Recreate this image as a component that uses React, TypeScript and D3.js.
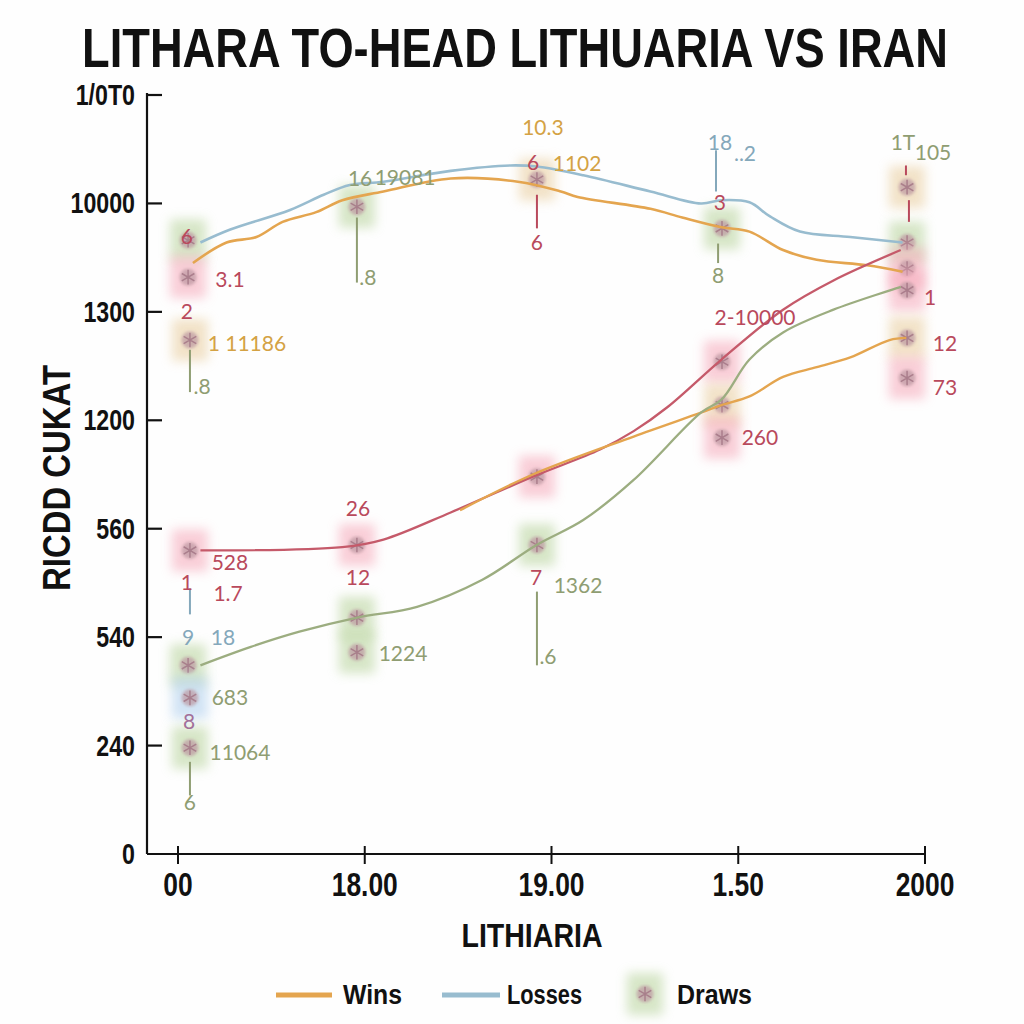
import React from "react";
import * as d3 from "d3";

// ---------- data (chart units: x = category index, y = tick index) ----------
const xTickLabels = ["00", "18.00", "19.00", "1.50", "2000"];
const yTickLabels = ["0", "240", "540", "560", "1200", "1300", "10000", "1/0T0"];

const lossesLine: [number, number][] = [
  [0.12, 5.64], [0.28, 5.76], [0.6, 5.94], [0.78, 6.08], [0.92, 6.17], [1.1, 6.2],
  [1.46, 6.3], [1.78, 6.35], [1.92, 6.34], [2.17, 6.26], [2.53, 6.11], [2.8, 6.0],
  [2.91, 6.03], [3.06, 6.01], [3.17, 5.88], [3.33, 5.74], [3.6, 5.69], [3.88, 5.64],
];
const winsUpperLine: [number, number][] = [
  [0.08, 5.45], [0.26, 5.64], [0.42, 5.69], [0.56, 5.83], [0.74, 5.92], [0.88, 6.03],
  [1.1, 6.11], [1.46, 6.23], [1.82, 6.2], [2.05, 6.11], [2.14, 6.06], [2.53, 5.95],
  [2.7, 5.87], [2.91, 5.78], [3.06, 5.74], [3.24, 5.57], [3.42, 5.48], [3.69, 5.43], [3.88, 5.37],
];
const winsLowerLine: [number, number][] = [
  [1.51, 3.17], [1.9, 3.5], [2.44, 3.85], [2.8, 4.07], [2.91, 4.14], [3.06, 4.22],
  [3.24, 4.4], [3.42, 4.49], [3.6, 4.58], [3.81, 4.74], [3.9, 4.76],
];
const redLine: [number, number][] = [
  [0.12, 2.8], [0.88, 2.83], [1.1, 2.9], [1.46, 3.15], [1.9, 3.48], [2.26, 3.73],
  [2.44, 3.9], [2.62, 4.12], [2.91, 4.56], [3.24, 5.02], [3.51, 5.29], [3.87, 5.57],
];
const greenLine: [number, number][] = [
  [0.12, 1.74], [0.39, 1.91], [0.65, 2.05], [0.96, 2.18], [1.28, 2.28], [1.63, 2.53],
  [1.92, 2.85], [2.17, 3.08], [2.44, 3.45], [2.8, 4.07], [2.91, 4.19], [3.06, 4.56],
  [3.24, 4.81], [3.51, 5.02], [3.87, 5.23],
];

// Draws markers: [x, y, glow]
const drawsPoints: [number, number, string][] = [
  [0.054, 5.66, "green"], [0.054, 5.32, "pink"], [0.064, 4.74, "beige"], [0.064, 2.8, "pink"],
  [0.054, 1.74, "green"], [0.064, 1.44, "blue"], [0.064, 0.98, "green"],
  [0.958, 5.97, "green"], [0.958, 2.85, "pink"], [0.958, 2.18, "green"], [0.958, 1.86, "green"],
  [1.922, 6.22, "beige"], [1.922, 3.48, "pink"], [1.922, 2.85, "green"],
  [2.913, 5.77, "green"], [2.913, 4.54, "pink"], [2.913, 4.14, "beige"], [2.913, 3.84, "pink"],
  [3.904, 6.15, "beige"], [3.904, 5.64, "green"], [3.904, 5.4, "pink"], [3.904, 5.2, "pink"],
  [3.904, 4.76, "beige"], [3.904, 4.39, "pink"],
];

// Annotation labels: [x, y, text, tone]
const labels: [number, number, string, string][] = [
  [0.048, 5.70, "6", "red"], [0.278, 5.30, "3.1", "red"], [0.048, 5.0, "2", "red"],
  [0.369, 4.71, "1 11186", "orange"], [0.129, 4.31, ".8", "green"],
  [0.278, 2.69, "528", "red"], [0.048, 2.5, "1", "red"], [0.268, 2.4, "1.7", "red"],
  [0.054, 2.0, "9", "blue"], [0.241, 2.0, "18", "blue"], [0.278, 1.44, "683", "green"],
  [0.059, 1.22, "8", "purple"], [0.332, 0.94, "11064", "green"], [0.064, 0.48, "6", "green"],
  [0.975, 6.23, "16", "green"], [1.216, 6.24, "19081", "green"], [1.017, 5.32, ".8", "green"],
  [0.964, 3.19, "26", "red"], [0.964, 2.55, "12", "red"], [1.205, 1.85, "1224", "green"],
  [1.954, 6.7, "10.3", "orange"], [1.901, 6.38, "6", "red"], [2.137, 6.37, "1102", "orange"],
  [1.922, 5.64, "6", "red"], [1.917, 2.55, "7", "red"], [2.142, 2.48, "1362", "green"],
  [1.981, 1.82, ".6", "green"],
  [2.902, 6.56, "18", "blue"], [3.036, 6.46, "..2", "blue"], [2.902, 6.01, "3", "red"],
  [2.892, 5.34, "8", "green"], [3.09, 4.95, "2-10000", "red"], [3.116, 3.84, "260", "red"],
  [3.882, 6.56, "1T", "green"], [4.043, 6.47, "105", "green"], [4.027, 5.13, "1", "red"],
  [4.107, 4.71, "12", "red"], [4.107, 4.3, "73", "red"],
];

// Stems: [x, y1, y2, tone]
const stems: [number, number, number, string][] = [
  [0.064, 4.65, 4.26, "green"], [0.064, 2.45, 2.21, "blue"], [0.064, 0.85, 0.54, "green"],
  [0.958, 5.87, 5.27, "green"], [1.922, 6.08, 5.77, "red"], [1.922, 2.42, 1.74, "green"],
  [2.881, 6.49, 6.11, "blue"], [2.892, 5.63, 5.45, "green"], [3.898, 6.35, 6.26, "red"],
  [3.914, 6.03, 5.83, "red"],
];

const legendItems = ["Wins", "Losses", "Draws"];

// ---------- styles ----------
const lineColors = { wins: "#e4a54f", losses: "#98bccf", red: "#c55a6a", green: "#9cad80" };
const toneColors: Record<string, string> = {
  red: "#b9495c", orange: "#d4a244", green: "#8f9d72", blue: "#84a8bb", purple: "#a2709a",
};
const glowColors: Record<string, string> = {
  pink: "#f6aebe", green: "#bcd6a2", beige: "#ead0a4", blue: "#b4d2ee",
};
const boldFont = "'Liberation Sans', Arial, Helvetica, sans-serif";
const labelFont = "Lato, 'Open Sans', sans-serif";
const SQ = 0.8; // horizontal squeeze for condensed look

export default function App() {
  const x = d3.scaleLinear().domain([0, 4]).range([178, 925]);
  const y = d3.scaleLinear().domain([0, 7]).range([854, 95]);
  const line = d3
    .line<[number, number]>()
    .x((d) => x(d[0]))
    .y((d) => y(d[1]))
    .curve(d3.curveCatmullRom.alpha(0.5));
  const star = d3.symbol().type(d3.symbolAsterisk).size(150)() as string;

  const marker = (cx: number, cy: number, glow: string, key: string) => (
    <g key={key} transform={`translate(${cx},${cy})`}>
      <rect x={-18} y={-21} width={36} height={42} fill={glowColors[glow]} opacity={0.6} filter="url(#blur)" />
      <circle r={8.5} fill="#bd99a2" opacity={0.7} filter="url(#soft)" />
      <path d={star} fill="none" stroke="#9f7080" strokeWidth={1.5} opacity={0.75} filter="url(#soft2)" />
    </g>
  );

  const cond = (
    key: string, tx: number, ty: number, text: string, size: number,
    anchor: "start" | "middle" | "end", extra: any = {}
  ) => (
    <text key={key} transform={`translate(${tx},${ty}) scale(${SQ},1)`} textAnchor={anchor}
      fontFamily={boldFont} fontWeight="bold" fontSize={size} fill="#111" {...extra}>
      {text}
    </text>
  );

  return (
    <svg width={1024} height={1024} style={{ position: "absolute", left: 0, top: 0, background: "#fefefe" }}>
      <defs>
        <filter id="blur" x="-50%" y="-50%" width="200%" height="200%">
          <feGaussianBlur stdDeviation={5.5} />
        </filter>
        <filter id="soft" x="-50%" y="-50%" width="200%" height="200%">
          <feGaussianBlur stdDeviation={1.5} />
        </filter>
        <filter id="soft2" x="-50%" y="-50%" width="200%" height="200%">
          <feGaussianBlur stdDeviation={0.6} />
        </filter>
      </defs>
      <rect width={1024} height={1024} fill="#fefefe" />

      {/* title */}
      {cond("title", 515, 67, "LITHARA TO-HEAD LITHUARIA VS IRAN", 56, "middle", {
        textLength: 866 / SQ, lengthAdjust: "spacingAndGlyphs",
      })}

      {/* axes */}
      <line x1={x(0) - 31} x2={x(0) - 31} y1={y(7) - 2} y2={y(0)} stroke="#111" strokeWidth={2.2} />
      <line x1={x(0) - 31} x2={x(4)} y1={y(0)} y2={y(0)} stroke="#111" strokeWidth={2.2} />
      {yTickLabels.map((t, i) => (
        <g key={"yt" + i}>
          {i > 0 && <line x1={x(0) - 31} x2={x(0) - 16} y1={y(i)} y2={y(i)} stroke="#111" strokeWidth={2.2} />}
          {cond("ytl" + i, 135, y(i) + 10, t, 29, "end")}
        </g>
      ))}
      {xTickLabels.map((t, i) => (
        <g key={"xt" + i}>
          <line x1={x(i)} x2={x(i)} y1={y(0) - 8} y2={y(0) + 10} stroke="#111" strokeWidth={2} />
          {cond("xtl" + i, x(i), 896, t, 33, "middle")}
        </g>
      ))}
      <text transform={`translate(70,478) rotate(-90) scale(${SQ},1)`} textAnchor="middle" fontFamily={boldFont}
        fontWeight="bold" fontSize={39} textLength={226 / SQ} lengthAdjust="spacingAndGlyphs" fill="#111">
        RICDD CUKAT
      </text>
      {cond("xtitle", 532, 947, "LITHIARIA", 34, "middle", { textLength: 141 / SQ, lengthAdjust: "spacingAndGlyphs" })}

      {/* glows + markers */}
      {drawsPoints.map((d, i) => marker(x(d[0]), y(d[1]), d[2], "m" + i))}

      {/* lines */}
      <path d={line(lossesLine) || ""} fill="none" stroke={lineColors.losses} strokeWidth={2.6} />
      <path d={line(winsUpperLine) || ""} fill="none" stroke={lineColors.wins} strokeWidth={2.6} />
      <path d={line(redLine) || ""} fill="none" stroke={lineColors.red} strokeWidth={2.3} />
      <path d={line(winsLowerLine) || ""} fill="none" stroke={lineColors.wins} strokeWidth={2.4} />
      <path d={line(greenLine) || ""} fill="none" stroke={lineColors.green} strokeWidth={2.3} />

      {/* stems */}
      {stems.map((s, i) => (
        <line key={"s" + i} x1={x(s[0])} x2={x(s[0])} y1={y(s[1])} y2={y(s[2])}
          stroke={toneColors[s[3]]} strokeWidth={2} />
      ))}

      {/* annotations */}
      {labels.map((l, i) => (
        <text key={"l" + i} x={x(l[0])} y={y(l[1])} dy="0.36em" textAnchor="middle" fontFamily={labelFont}
          fontSize={21} fill={toneColors[l[3]]}>{l[2]}</text>
      ))}

      {/* legend */}
      <g>
        <line x1={276} x2={332} y1={995} y2={995} stroke={lineColors.wins} strokeWidth={5} />
        {cond("lg0", 343, 1004, legendItems[0], 27, "start", { textLength: 59 / SQ, lengthAdjust: "spacingAndGlyphs" })}
        <line x1={442} x2={500} y1={995} y2={995} stroke={lineColors.losses} strokeWidth={5} />
        {cond("lg1", 507, 1004, legendItems[1], 27, "start", { textLength: 75 / SQ, lengthAdjust: "spacingAndGlyphs" })}
        {marker(645, 994, "green", "legendMarker")}
        {cond("lg2", 677, 1004, legendItems[2], 27, "start", { textLength: 75 / SQ, lengthAdjust: "spacingAndGlyphs" })}
      </g>
    </svg>
  );
}
